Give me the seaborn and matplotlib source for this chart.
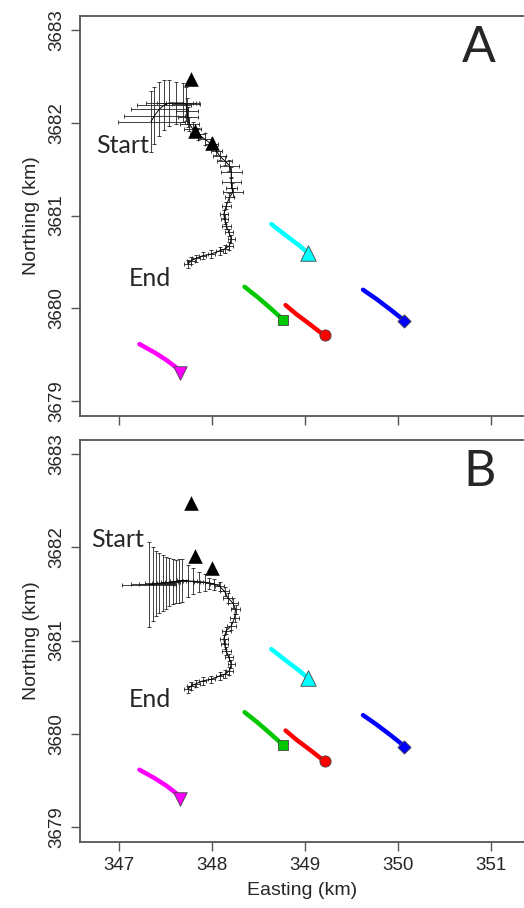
import matplotlib
matplotlib.use("Agg")
import matplotlib.pyplot as plt
import numpy as np
import pandas as pd
import seaborn as sns

# ---- data (km) ----
# track head for panel A (start of track) and panel B
head_a_e = [347.348, 347.384, 347.438, 347.491, 347.545, 347.617, 347.688, 347.725, 347.731, 347.742,
            347.760, 347.796, 347.849, 347.922, 347.994, 348.047, 348.083, 348.137, 348.190,
            348.209, 348.209, 348.215, 348.226, 348.190]
head_a_n = [3682.011, 3682.076, 3682.148, 3682.191, 3682.213, 3682.213, 3682.213, 3682.202, 3682.130, 3682.059,
            3681.987, 3681.933, 3681.879, 3681.825, 3681.771, 3681.699, 3681.645, 3681.591, 3681.537,
            3681.466, 3681.358, 3681.300, 3681.250, 3681.196]
head_b_e = [347.330, 347.366, 347.402, 347.438, 347.473, 347.510, 347.545, 347.581, 347.617, 347.652,
            347.682, 347.742, 347.796, 347.860, 347.922, 347.975, 348.029, 348.083, 348.137, 348.172,
            348.226, 348.255, 348.244, 348.209]
head_b_n = [3681.600, 3681.605, 3681.610, 3681.615, 3681.618, 3681.620, 3681.625, 3681.630, 3681.635, 3681.640,
            3681.645, 3681.640, 3681.635, 3681.630, 3681.625, 3681.615, 3681.605, 3681.581, 3681.528, 3681.457,
            3681.403, 3681.333, 3681.243, 3681.155]
# common end of the track
tail_e = [348.155, 348.129, 348.137, 348.155, 348.183, 348.209, 348.190, 348.137, 348.083, 347.994,
          347.903, 347.832, 347.778, 347.742]
tail_n = [3681.106, 3681.016, 3680.962, 3680.890, 3680.819, 3680.747, 3680.674, 3680.639, 3680.620, 3680.585,
          3680.567, 3680.539, 3680.513, 3680.477]

sd_e_a = [0.36, 0.33, 0.31, 0.29, 0.25, 0.21, 0.18, 0.15, 0.12, 0.11, 0.10, 0.09, 0.08, 0.07, 0.07, 0.06,
          0.07, 0.08, 0.10, 0.11, 0.10, 0.06, 0.11, 0.05,
          0.05, 0.04, 0.04, 0.05, 0.04, 0.04, 0.04, 0.05, 0.04, 0.04, 0.04, 0.04, 0.04, 0.04]
sd_n_a = [0.33, 0.31, 0.29, 0.27, 0.25, 0.23, 0.21, 0.18, 0.14, 0.11, 0.08, 0.07, 0.06, 0.06, 0.05, 0.05,
          0.05, 0.05, 0.06, 0.06, 0.06, 0.05, 0.05, 0.05,
          0.04, 0.04, 0.05, 0.04, 0.04, 0.04, 0.04, 0.04, 0.04, 0.04, 0.04, 0.04, 0.04, 0.04]
sd_e_b = [0.29, 0.23, 0.18, 0.15, 0.12, 0.10, 0.09, 0.08, 0.07, 0.07, 0.06, 0.06, 0.05, 0.05, 0.05, 0.05,
          0.05, 0.05, 0.05, 0.05, 0.05, 0.05, 0.05, 0.05,
          0.05, 0.04, 0.04, 0.05, 0.04, 0.04, 0.04, 0.05, 0.04, 0.04, 0.04, 0.04, 0.04, 0.04]
sd_n_b = [0.46, 0.40, 0.35, 0.32, 0.30, 0.28, 0.26, 0.24, 0.23, 0.235, 0.23, 0.17, 0.14, 0.11, 0.09, 0.06,
          0.06, 0.05, 0.05, 0.05, 0.05, 0.05, 0.04, 0.04,
          0.04, 0.04, 0.05, 0.04, 0.04, 0.04, 0.04, 0.04, 0.04, 0.04, 0.04, 0.04, 0.04, 0.04]

# black triangles (fixed receivers)
tri_e = [347.78, 347.82, 348.00]
tri_n = [3682.47, 3681.91, 3681.78]

# coloured tracks, each ending in a marker
cyan_e = [348.639, 348.80, 348.943, 349.033]
cyan_n = [3680.908, 3680.782, 3680.674, 3680.596]
green_e = [348.352, 348.495, 348.620, 348.728, 348.764]
green_n = [3680.232, 3680.118, 3680.010, 3679.913, 3679.877]
red_e = [348.792, 348.907, 349.051, 349.176, 349.215]
red_n = [3680.035, 3679.938, 3679.830, 3679.733, 3679.708]
blue_e = [349.624, 349.768, 349.911, 350.037, 350.061]
blue_n = [3680.200, 3680.100, 3679.992, 3679.892, 3679.863]
magenta_e = [347.223, 347.384, 347.510, 347.617, 347.660]
magenta_n = [3679.615, 3679.525, 3679.445, 3679.363, 3679.302]

x_ticks = [347, 348, 349, 350, 351]
y_ticks = [3679, 3680, 3681, 3682, 3683]

sns.set_style("white")
plt.rcParams['font.family'] = ['Liberation Sans', 'DejaVu Sans']

fig = plt.figure(figsize=(5.24, 9.08), dpi=100)
axA = fig.add_axes([80 / 524, 1 - 416 / 908, 1 - 80 / 524, 400 / 908])
axB = fig.add_axes([80 / 524, 1 - 842 / 908, 1 - 80 / 524, 402 / 908])

tracks = [
    (cyan_e, cyan_n, "#00FFFF", "^", 125),
    (green_e, green_n, "#00C800", "s", 60),
    (red_e, red_n, "#FF0000", "o", 65),
    (blue_e, blue_n, "#0000FF", "D", 45),
    (magenta_e, magenta_n, "#FF00FF", "v", 95),
]

panels = [
    (axA, head_a_e, head_a_n, sd_e_a, sd_n_a, "A", (347.04, 3681.76), (347.34, 3680.32)),
    (axB, head_b_e, head_b_n, sd_e_b, sd_n_b, "B", (346.99, 3682.08), (347.33, 3680.37)),
]

for ax, he, hn, se, sn_, letter, start_pos, end_pos in panels:
    df = pd.DataFrame({"e": he + tail_e, "n": hn + tail_n, "se": se, "sn": sn_})
    ax.errorbar(df["e"], df["n"], xerr=df["se"], yerr=df["sn"], fmt="none",
                ecolor="#222222", elinewidth=0.6, capsize=1.3, capthick=0.6, zorder=2)
    sns.lineplot(data=df, x="e", y="n", sort=False, estimator=None, color="black",
                 linewidth=0.7, ax=ax, zorder=3)

    for e, n, c, m, s in tracks:
        sns.lineplot(x=e, y=n, sort=False, estimator=None, color=c, linewidth=3.2,
                     solid_capstyle="round", ax=ax, zorder=4)
        sns.scatterplot(x=[e[-1]], y=[n[-1]], color=c, marker=m, s=s,
                        edgecolor="#444444", linewidth=0.6, ax=ax, zorder=5)

    sns.scatterplot(x=tri_e, y=tri_n, color="black", marker="^", s=110,
                    edgecolor="black", linewidth=0, ax=ax, zorder=6)

    ax.text(start_pos[0], start_pos[1], "Start", fontsize=18, family="Lato",
            ha="center", va="center")
    ax.text(end_pos[0], end_pos[1], "End", fontsize=18, family="Lato",
            ha="center", va="center")
    ax.text(350.87, 3682.81, letter, fontsize=36, family="Lato", ha="center", va="center")

    ax.set_xlim(346.585, 351.352)
    ax.set_ylim(3678.84, 3683.15)
    ax.set_xticks(x_ticks)
    ax.set_yticks(y_ticks)
    ax.set_ylabel("Northing (km)", fontsize=14, labelpad=6)
    for side in ["left", "top", "bottom"]:
        ax.spines[side].set_color("#555555")
        ax.spines[side].set_linewidth(1.3)
    ax.spines["right"].set_visible(False)
    ax.tick_params(direction="out", length=6.5, width=1, color="#555555",
                   labelsize=13.5, pad=4, left=True, bottom=True)
    plt.setp(ax.get_yticklabels(), rotation=90, va="center")

axA.set_xlabel("")
axA.set_xticklabels([])
axB.set_xlabel("Easting (km)", fontsize=14, labelpad=6)

fig.savefig("out.png", dpi=100)
